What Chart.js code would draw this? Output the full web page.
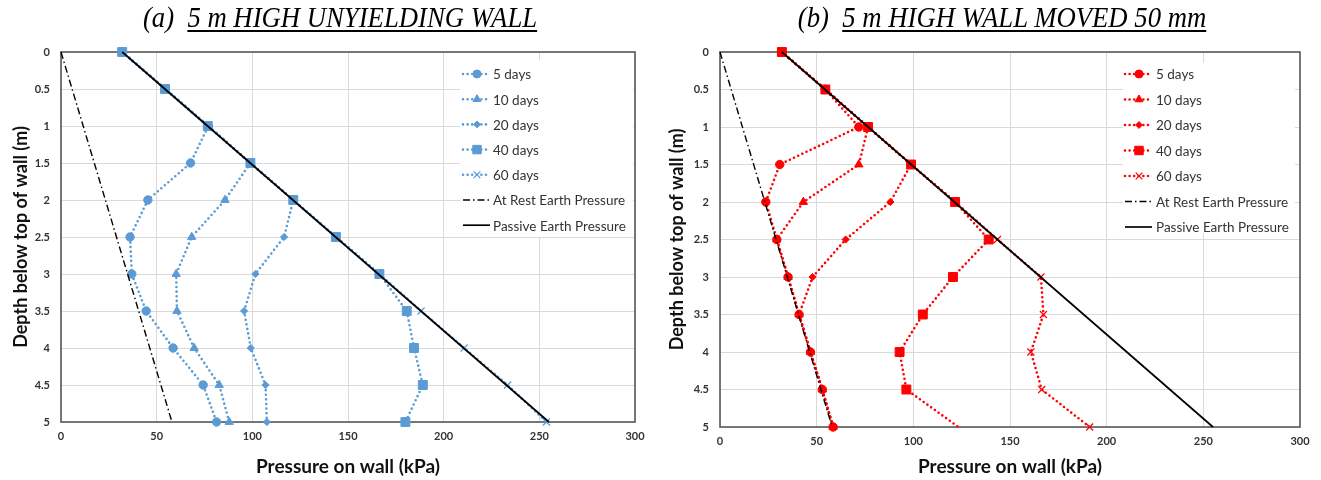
<!DOCTYPE html>
<html>
<head>
<meta charset="utf-8">
<script src="https://cdn.jsdelivr.net/npm/chart.js@4.4.1/dist/chart.umd.min.js"></script>
<style>
  body { margin: 0; background: #fff; width: 1321px; height: 480px; position: relative; overflow: hidden; }
  .box { position: absolute; top: 0; height: 480px; }
  .title { position: absolute; top: 0px; font-family: "Liberation Serif", serif; font-style: italic; font-size: 30px; white-space: pre; color: #000; transform: translateX(-50%) scaleX(0.89); }
  .title u { text-decoration-thickness: 1.5px; text-underline-offset: 3px; }
</style>
</head>
<body>
<div class="box" style="left:0;width:660px"><canvas id="left" width="660" height="480"></canvas></div>
<div class="box" style="left:660px;width:661px"><canvas id="right" width="661" height="480"></canvas></div>
<div class="title" style="left:340px">(a)  <u>5 m HIGH UNYIELDING WALL</u></div>
<div class="title" style="left:1002px">(b)  <u>5 m HIGH WALL MOVED 50 mm</u></div>
<script>
// depth below top of wall (m)
const depths = [0, 0.5, 1, 1.5, 2, 2.5, 3, 3.5, 4, 4.5, 5];
const seriesNames = ['5 days', '10 days', '20 days', '40 days', '60 days'];

// (a) unyielding wall, pressure (kPa)
const wallA5  = [32, 54.5, 77, 67.7, 45.4, 36.1, 37, 44.5, 58.6, 74.3, 81.3];
const wallA10 = [32, 54.5, 77, 99, 85.7, 68.3, 60.2, 60.6, 69.6, 82.7, 87.9];
const wallA20 = [32, 54.5, 77, 99, 121.4, 116.6, 101.6, 95.7, 99.2, 106.9, 107.6];
const wallA40 = [32, 54.4, 76.7, 99, 121.4, 143.7, 166.4, 180.7, 184.5, 189.1, 180];
const wallA60 = [32, 54.5, 77, 99, 121.4, 143.7, 166.4, 188.2, 210.7, 233.4, 253.7];

// (b) wall moved 50 mm, pressure (kPa)
const wallB5  = [32, 54.5, 71.8, 30.9, 23.7, 29.4, 35.2, 40.9, 46.8, 52.9, 58.5];
const wallB10 = [32, 54.5, 76.6, 71.8, 43.1, 29.4, 35.2, 40.9, 46.8, 52.9, 58.5];
const wallB20 = [32, 54.5, 76.6, 98.8, 88.1, 65, 47.9, 40.9, 46.8, 52.9, 58.5];
const wallB40 = [32, 54.5, 76.6, 98.8, 121.6, 139, 120.5, 104.9, 92.9, 96.4, 123.3];
const wallB60 = [32, 54.5, 76.6, 98.8, 121.6, 143.5, 166, 167.3, 160.8, 166.4, 191.2];

// reference lines: [top, bottom]
const lineDepths = [0, 5];
const atRest = [0, 58];
const passive = [32, 255];

const xTicks = [0, 50, 100, 150, 200, 250, 300];

const markers = ['circle', 'triangle', 'rectRot', 'rect', 'crossRot'];
const markerSize = [4.2, 4.8, 3.6, 6.3, 5];

const drawPt = (Chart.helpers && Chart.helpers.drawPoint) ? Chart.helpers.drawPoint : null;

const plotFrame = {
  id: 'plotFrame',
  beforeDatasetsDraw(chart) {
    const a = chart.chartArea, ctx = chart.ctx;
    ctx.save();
    ctx.strokeStyle = '#595959';
    ctx.lineWidth = 1.6;
    ctx.strokeRect(a.left, a.top, a.right - a.left, a.bottom - a.top);
    ctx.restore();
  }
};

const excelLegend = {
  id: 'excelLegend',
  afterDatasetsDraw(chart, args, o) {
    const ctx = chart.ctx;
    ctx.save();
    ctx.fillStyle = '#fff';
    ctx.fillRect(o.box[0], o.box[1], o.box[2], o.box[3]);
    chart.data.datasets.forEach((ds, i) => {
      const y = o.rowTop + i * o.rowH;
      const x0 = o.sampleX, x1 = o.sampleX + 27;
      ctx.save();
      ctx.strokeStyle = ds.borderColor;
      ctx.lineWidth = ds.borderWidth;
      ctx.lineCap = ds.borderCapStyle || 'butt';
      ctx.setLineDash(ds.borderDash || []);
      ctx.beginPath();
      ctx.moveTo(x0, y);
      ctx.lineTo(x1, y);
      ctx.stroke();
      ctx.restore();
      if (ds.pointRadius && drawPt) {
        ctx.save();
        ctx.fillStyle = ds.pointBackgroundColor;
        ctx.strokeStyle = ds.pointBorderColor;
        ctx.lineWidth = ds.pointBorderWidth;
        const r = Array.isArray(ds.pointRadius) ? ds.pointRadius[0] : ds.pointRadius;
        drawPt(ctx, { pointStyle: ds.pointStyle, radius: r * 0.95, rotation: 0, borderWidth: ds.pointBorderWidth }, x0 + 14, y);
        ctx.restore();
      }
      ctx.fillStyle = '#333';
      ctx.font = '13.5px Lato';
      ctx.textBaseline = 'middle';
      ctx.fillText(ds.label, o.textX, y + 1);
    });
    ctx.restore();
  }
};

function makeChart(id, color, series, lay) {
  const datasets = series.map((vals, i) => ({
    label: seriesNames[i],
    data: depths.map((d, k) => ({ x: vals[k], y: d })),
    showLine: true,
    borderColor: color,
    backgroundColor: color,
    borderWidth: 2.6,
    borderDash: [0, 4.6],
    borderCapStyle: 'round',
    pointStyle: markers[i],
    pointRadius: lay.hide && lay.hide[i] ? depths.map((d, k) => lay.hide[i].includes(k) ? 0 : markerSize[i]) : markerSize[i],
    pointBackgroundColor: color,
    pointBorderColor: color,
    pointBorderWidth: i === 4 ? 1.2 : 1,
    order: 7 - i,
    clip: false
  }));
  datasets.push({
    label: 'At Rest Earth Pressure',
    data: lineDepths.map((d, k) => ({ x: atRest[k], y: d })),
    showLine: true, borderColor: '#000', borderWidth: 1.4,
    borderDash: [7, 3, 1.5, 3], pointRadius: 0, order: 2, clip: false
  });
  datasets.push({
    label: 'Passive Earth Pressure',
    data: lineDepths.map((d, k) => ({ x: passive[k], y: d })),
    showLine: true, borderColor: '#000', borderWidth: 1.7,
    pointRadius: 0, order: 1, clip: false
  });

  const tickFont = { family: 'Lato', size: 11, weight: 'bold' };

  return new Chart(document.getElementById(id), {
    type: 'scatter',
    data: { datasets },
    options: {
      responsive: false,
      animation: false,
      layout: { padding: { top: lay.top, right: lay.right, left: 0, bottom: 0 } },
      scales: {
        x: {
          type: 'linear', min: 0, max: 300,
          afterBuildTicks: (s) => { s.ticks = xTicks.map(v => ({ value: v })); },
          afterFit: (s) => { s.height = lay.xh; },
          ticks: { font: tickFont, color: '#333', padding: 8, maxRotation: 0, callback: (v) => String(+v) },
          grid: { color: '#d9d9d9', lineWidth: 1, drawTicks: false },
          border: { display: false },
          title: { display: true, text: 'Pressure on wall (kPa)', font: { family: 'Lato', size: 19, weight: 'bold' }, color: '#111', padding: { top: 0, bottom: 2 } }
        },
        y: {
          type: 'linear', min: 0, max: 5, reverse: true,
          afterBuildTicks: (s) => { s.ticks = depths.map(v => ({ value: v })); },
          afterFit: (s) => { s.width = lay.yw; },
          ticks: { font: tickFont, color: '#333', padding: 11, callback: (v) => String(+v) },
          grid: { color: '#d9d9d9', lineWidth: 1, drawTicks: false },
          border: { display: false },
          title: { display: true, text: 'Depth below top of wall (m)', font: { family: 'Lato', size: 18, weight: 'bold' }, color: '#111', padding: { top: lay.titlePad, bottom: 0 } }
        }
      },
      plugins: {
        legend: { display: false },
        tooltip: { enabled: false },
        excelLegend: lay.legend
      }
    },
    plugins: [plotFrame, excelLegend]
  });
}

makeChart('left', '#5B9BD5', [wallA5, wallA10, wallA20, wallA40, wallA60], {
  top: 52, right: 25, yw: 61, xh: 58, titlePad: 10,
  legend: { box: [460, 60, 173, 177], rowTop: 74, rowH: 25.2, sampleX: 463, textX: 493 }
});
makeChart('right', '#FF0000', [wallB5, wallB10, wallB20, wallB40, wallB60], {
  top: 52, right: 21, yw: 60, xh: 53, titlePad: 6,
  hide: { 3: [10] },
  legend: { box: [463, 63, 172, 170], rowTop: 74, rowH: 25.5, sampleX: 465, textX: 496 }
});
</script>
</body>
</html>
